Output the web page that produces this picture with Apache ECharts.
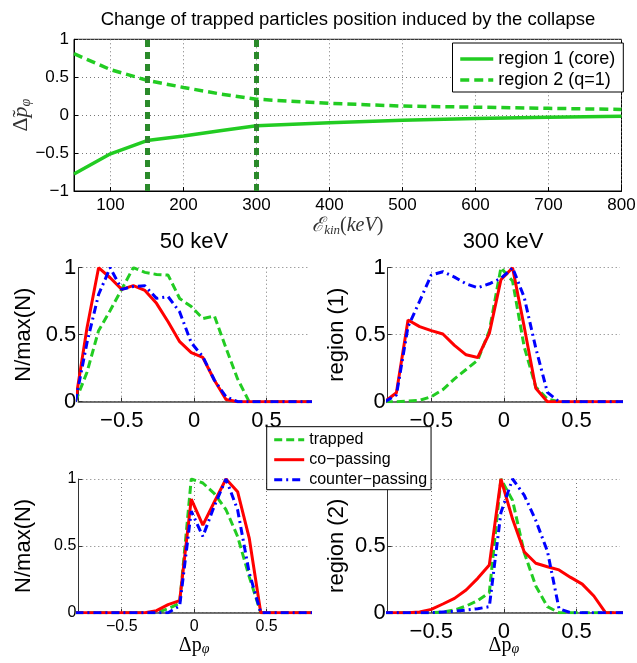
<!DOCTYPE html>
<html><head><meta charset="utf-8">
<script src="https://cdn.jsdelivr.net/npm/echarts@6/dist/echarts.min.js"></script>
<style>html,body{margin:0;padding:0;background:#fff}#c{width:637px;height:663px}</style>
</head><body><div id="c"></div>
<script>
// ---- top panel data ----
const energy = [50, 100, 150, 200, 250, 300, 400, 500, 600, 700, 800];
const region1Core = [-0.775, -0.51, -0.335, -0.275, -0.205, -0.14, -0.10, -0.068, -0.045, -0.028, -0.015];
const region2Q1 = [0.81, 0.60, 0.46, 0.365, 0.28, 0.21, 0.155, 0.12, 0.105, 0.09, 0.075];
const energyMarks = [150, 300];
const energyTicks = [100, 200, 300, 400, 500, 600, 700, 800];

// ---- histogram bins (delta p_phi) ----
const dp = [-0.82, -0.74, -0.66, -0.58, -0.50, -0.42, -0.34, -0.26, -0.18, -0.10, -0.02, 0.06, 0.14, 0.22, 0.30, 0.38, 0.46, 0.54, 0.62, 0.70, 0.78, 0.86];
const dpTicks = [-0.5, 0, 0.5];

// 50 keV, region (1)
const trapped50r1 = [0, 0.22, 0.53, 0.68, 0.84, 1.0, 0.965, 0.95, 0.945, 0.77, 0.71, 0.62, 0.64, 0.40, 0.17, 0, 0, 0, 0, 0, 0, 0];
const coPass50r1 = [0, 0.55, 1.0, 0.925, 0.838, 0.866, 0.83, 0.734, 0.597, 0.448, 0.366, 0.33, 0.16, 0.017, 0, 0, 0, 0, 0, 0, 0, 0];
const counter50r1 = [0, 0.44, 0.80, 1.0, 0.838, 0.86, 0.865, 0.771, 0.784, 0.67, 0.44, 0.336, 0.16, 0.037, 0, 0, 0, 0, 0, 0, 0, 0];
// 300 keV, region (1)
const trapped300r1 = [0, 0, 0.005, 0.01, 0.037, 0.09, 0.17, 0.24, 0.31, 0.53, 1.0, 0.90, 0.41, 0.11, 0.02, 0, 0, 0, 0, 0, 0, 0];
const coPass300r1 = [0, 0.067, 0.61, 0.56, 0.53, 0.505, 0.42, 0.35, 0.33, 0.51, 0.91, 1.0, 0.56, 0.10, 0, 0, 0, 0, 0, 0, 0, 0];
const counter300r1 = [0, 0.05, 0.56, 0.75, 0.945, 0.97, 0.93, 0.88, 0.85, 0.88, 0.92, 1.0, 0.78, 0.40, 0.07, 0, 0, 0, 0, 0, 0, 0];
// 50 keV, region (2)
const trapped50r2 = [0, 0, 0, 0, 0, 0, 0, 0, 0.03, 0.07, 1.0, 0.97, 0.89, 0.77, 0.57, 0.27, 0, 0, 0, 0, 0, 0];
const coPass50r2 = [0, 0, 0, 0, 0, 0, 0, 0.015, 0.06, 0.09, 0.85, 0.655, 0.83, 1.0, 0.905, 0.56, 0, 0, 0, 0, 0, 0];
const counter50r2 = [0, 0, 0, 0, 0, 0, 0, 0, 0, 0.05, 0.76, 0.57, 0.80, 1.0, 0.77, 0.30, 0, 0, 0, 0, 0, 0];
// 300 keV, region (2)
const trapped300r2 = [0, 0, 0, 0, 0, 0.005, 0.02, 0.05, 0.09, 0.15, 1.0, 0.84, 0.45, 0.20, 0.045, 0, 0, 0, 0, 0, 0, 0];
const coPass300r2 = [0, 0, 0, 0.005, 0.025, 0.065, 0.107, 0.17, 0.257, 0.357, 1.0, 0.70, 0.456, 0.37, 0.344, 0.32, 0.264, 0.214, 0.125, 0, 0, 0];
const counter300r2 = [0, 0, 0, 0, 0, 0.005, 0.01, 0.02, 0.03, 0.045, 0.75, 1.0, 0.88, 0.69, 0.46, 0.03, 0, 0, 0, 0, 0, 0];

const seriesNames = ['trapped', 'co\u2212passing', 'counter\u2212passing'];
const topNames = ['region 1 (core)', 'region 2 (q=1)'];

const FF = '"Liberation Sans", Arial, Helvetica, sans-serif';
const SERIF = '"Liberation Serif", "DejaVu Serif", serif';
const GREEN = '#22cc22', RED = '#ff0000', BLUE = '#0000ff', DKGREEN = '#2a8a2a';
const minus = v => String(v).replace('-', '\u2212');

const pair = (xs, ys) => xs.map((x, i) => [x, ys[i]]);
const gridLine = {show: true, lineStyle: {color: '#777', type: [1, 3], width: 1}};

function subX(idx, fs) {
  return {type: 'value', gridIndex: idx, min: -0.8, max: 0.8,
    axisLine: {show: true, onZero: false, lineStyle: {color: '#444', width: 1.5}},
    axisTick: {show: true, inside: true, length: 4, customValues: dpTicks, lineStyle: {color: '#333'}},
    axisLabel: {customValues: dpTicks, formatter: minus, fontSize: fs, color: '#000', fontFamily: FF, margin: fs > 18 ? 8 : 6},
    splitLine: gridLine, nameMoveOverlap: false};
}
function subY(idx, fs, name) {
  return {type: 'value', gridIndex: idx, min: 0, max: 1, interval: 0.5,
    axisLine: {show: true, onZero: false, lineStyle: {color: '#333', width: 1}},
    axisTick: {show: true, inside: true, length: 4, lineStyle: {color: '#333'}},
    axisLabel: {fontSize: fs, color: '#000', fontFamily: FF, margin: 2, formatter: v => String(v)},
    splitLine: gridLine,
    name: name, nameLocation: 'middle', nameRotate: 90, nameGap: idx % 2 ? 43 : 40, nameMoveOverlap: false,
    nameTextStyle: {fontSize: 22, color: '#000', fontFamily: FF}};
}
const dpName = {name: '{n|\u0394p}{s|\u03c6}', nameLocation: 'middle', nameGap: 22,
  nameTextStyle: {fontFamily: SERIF, color: '#000',
    rich: {n: {fontSize: 20, fontFamily: SERIF, color: '#000', lineHeight: 22},
           s: {fontSize: 14, fontFamily: SERIF, fontStyle: 'italic', color: '#000', lineHeight: 14, verticalAlign: 'bottom'}}}};

function histSeries(idx, tr, co, cn) {
  const base = {type: 'line', xAxisIndex: idx, yAxisIndex: idx, symbol: 'none', showSymbol: false, clip: true, z: 3};
  return [
    Object.assign({}, base, {name: seriesNames[0], data: pair(dp, tr), lineStyle: {color: GREEN, width: 3, type: [8, 4]}, itemStyle: {color: GREEN}}),
    Object.assign({}, base, {name: seriesNames[1], data: pair(dp, co), lineStyle: {color: RED, width: 3, type: 'solid'}, itemStyle: {color: RED}}),
    Object.assign({}, base, {name: seriesNames[2], data: pair(dp, cn), lineStyle: {color: BLUE, width: 3, type: [8, 4, 2, 4]}, itemStyle: {color: BLUE}})
  ];
}

const gridBase = {outerBoundsMode: 'none', containLabel: false};
const chart = echarts.init(document.getElementById('c'), null, {renderer: 'canvas'});
chart.setOption({
  animation: false,
  backgroundColor: '#fff',
  title: [
    {text: 'Change of trapped particles position induced by the collapse', left: 348, top: 10, textAlign: 'center', padding: 0,
      textStyle: {fontSize: 18.5, fontWeight: 'normal', fontFamily: FF, color: '#000'}},
    {text: '50 keV', left: 194, top: 231, textAlign: 'center', padding: 0,
      textStyle: {fontSize: 22, fontWeight: 'normal', fontFamily: FF, color: '#000'}},
    {text: '300 keV', left: 503, top: 231, textAlign: 'center', padding: 0,
      textStyle: {fontSize: 22, fontWeight: 'normal', fontFamily: FF, color: '#000'}}
  ],
  legend: [
    {data: topNames, orient: 'vertical', left: 452.5, top: 43, itemWidth: 33, itemHeight: 14, itemGap: 3,
      padding: [7, 8, 3, 6], borderColor: '#000', borderWidth: 1, borderRadius: 0, backgroundColor: '#fff',
      itemStyle: {opacity: 0}, lineStyle: {width: 3.5},
      selectedMode: false, textStyle: {fontSize: 18, color: '#000', fontFamily: FF}},
    {data: seriesNames, orient: 'vertical', left: 266.7, top: 426.7, itemWidth: 30, itemHeight: 14, itemGap: 4,
      padding: [5, 4, 2, 6], borderColor: '#000', borderWidth: 1, borderRadius: 0, backgroundColor: '#fff',
      itemStyle: {opacity: 0}, lineStyle: {width: 3},
      selectedMode: false, z: 10, textStyle: {fontSize: 16, color: '#000', fontFamily: FF}}
  ],
  grid: [
    Object.assign({left: 74, top: 39.3, width: 547.5, height: 151.7, show: true, borderColor: '#000', borderWidth: 1, backgroundColor: 'transparent'}, gridBase),
    Object.assign({left: 78.3, top: 267.7, width: 231.7, height: 134}, gridBase),
    Object.assign({left: 387.7, top: 267.7, width: 232.3, height: 134}, gridBase),
    Object.assign({left: 78.3, top: 479, width: 231.7, height: 133.7}, gridBase),
    Object.assign({left: 387.7, top: 479, width: 232.3, height: 133.7}, gridBase)
  ],
  xAxis: [
    {type: 'value', gridIndex: 0, min: 50, max: 800,
      axisLine: {show: true, onZero: false, lineStyle: {color: '#000'}},
      axisTick: {show: true, inside: true, length: 4, customValues: energyTicks, lineStyle: {color: '#000'}},
      axisLabel: {customValues: energyTicks, fontSize: 17, color: '#000', fontFamily: FF, margin: 6},
      splitLine: gridLine,
      name: '{c|\u2130}{s|kin}{n|(}{i|keV}{n|)}', nameLocation: 'middle', nameGap: 24, nameMoveOverlap: false,
      nameTextStyle: {fontFamily: SERIF, color: '#000',
        rich: {c: {fontSize: 20, fontFamily: SERIF, fontStyle: 'italic', color: '#333', lineHeight: 22},
               s: {fontSize: 13, fontFamily: SERIF, fontStyle: 'italic', color: '#333', lineHeight: 14, verticalAlign: 'bottom'},
               n: {fontSize: 20, fontFamily: SERIF, color: '#333', lineHeight: 22},
               i: {fontSize: 20, fontFamily: SERIF, fontStyle: 'italic', color: '#333', lineHeight: 22}}}},
    subX(1, 22),
    subX(2, 22),
    Object.assign(subX(3, 16), dpName),
    Object.assign(subX(4, 22), dpName)
  ],
  yAxis: [
    {type: 'value', gridIndex: 0, min: -1, max: 1, interval: 0.5,
      axisLine: {show: true, onZero: false, lineStyle: {color: '#000'}},
      axisTick: {show: true, inside: true, length: 4, lineStyle: {color: '#000'}},
      axisLabel: {fontSize: 17, color: '#000', fontFamily: FF, margin: 5, formatter: minus},
      splitLine: gridLine,
      name: '{d|\u0394\u0303}{p|p}{s|\u03c6}', nameLocation: 'middle', nameRotate: 90, nameGap: 41, nameMoveOverlap: false,
      nameTextStyle: {fontFamily: SERIF, color: '#000',
        rich: {d: {fontSize: 22, fontFamily: SERIF, color: '#333', lineHeight: 24},
               p: {fontSize: 22, fontFamily: SERIF, fontStyle: 'italic', color: '#333', lineHeight: 24},
               s: {fontSize: 14, fontFamily: SERIF, fontStyle: 'italic', color: '#333', lineHeight: 14, verticalAlign: 'bottom'}}}},
    subY(1, 22, 'N/max(N)'),
    subY(2, 22, 'region (1)'),
    subY(3, 16, 'N/max(N)'),
    subY(4, 22, 'region (2)')
  ],
  series: [
    {type: 'line', name: topNames[0], xAxisIndex: 0, yAxisIndex: 0, symbol: 'none', showSymbol: false,
      data: pair(energy, region1Core), lineStyle: {color: GREEN, width: 3.5, type: 'solid'}, itemStyle: {color: GREEN},
      markLine: {silent: true, symbol: 'none', label: {show: false}, animation: false,
        lineStyle: {color: DKGREEN, width: 5, type: [7, 5]},
        data: energyMarks.map(v => ({xAxis: v}))}},
    {type: 'line', name: topNames[1], xAxisIndex: 0, yAxisIndex: 0, symbol: 'none', showSymbol: false,
      data: pair(energy, region2Q1), lineStyle: {color: GREEN, width: 3.5, type: [9, 5]}, itemStyle: {color: GREEN}}
  ].concat(
    histSeries(1, trapped50r1, coPass50r1, counter50r1),
    histSeries(2, trapped300r1, coPass300r1, counter300r1),
    histSeries(3, trapped50r2, coPass50r2, counter50r2),
    histSeries(4, trapped300r2, coPass300r2, counter300r2)
  )
});
</script></body></html>
